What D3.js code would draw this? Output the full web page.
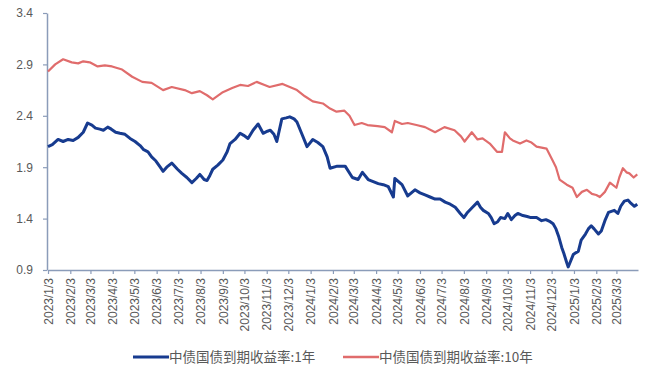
<!DOCTYPE html>
<html>
<head>
<meta charset="utf-8">
<script src="https://cdn.jsdelivr.net/npm/d3@7"></script>
<style>
  html, body { margin: 0; padding: 0; background: #ffffff; }
  svg { display: block; }
</style>
</head>
<body>
<svg id="chart" width="645" height="375"></svg>
<script>
// ---- Data ----
const seriesNames = ["中债国债到期收益率:1年", "中债国债到期收益率:10年"];

const yTickValues = [0.9, 1.4, 1.9, 2.4, 2.9, 3.4];

const oneYear = [
  ["2023-01-03",2.10],["2023-01-09",2.12],["2023-01-17",2.17],["2023-01-24",2.15],["2023-01-31",2.17],
  ["2023-02-07",2.16],["2023-02-14",2.19],["2023-02-21",2.24],["2023-02-27",2.33],["2023-03-05",2.31],
  ["2023-03-10",2.28],["2023-03-16",2.27],["2023-03-21",2.26],["2023-03-27",2.29],["2023-04-01",2.27],
  ["2023-04-07",2.24],["2023-04-13",2.23],["2023-04-20",2.22],["2023-04-27",2.18],["2023-05-04",2.15],
  ["2023-05-11",2.11],["2023-05-16",2.07],["2023-05-22",2.05],["2023-05-27",2.00],["2023-06-02",1.96],
  ["2023-06-08",1.90],["2023-06-12",1.86],["2023-06-17",1.90],["2023-06-24",1.94],["2023-07-02",1.88],
  ["2023-07-08",1.84],["2023-07-15",1.80],["2023-07-22",1.75],["2023-07-28",1.79],["2023-08-02",1.83],
  ["2023-08-08",1.78],["2023-08-12",1.77],["2023-08-16",1.82],["2023-08-20",1.88],["2023-08-27",1.92],
  ["2023-09-03",1.97],["2023-09-09",2.05],["2023-09-13",2.13],["2023-09-20",2.17],["2023-09-27",2.23],
  ["2023-10-02",2.21],["2023-10-08",2.18],["2023-10-15",2.26],["2023-10-22",2.32],["2023-10-29",2.23],
  ["2023-11-04",2.25],["2023-11-08",2.26],["2023-11-13",2.22],["2023-11-17",2.15],["2023-11-24",2.37],
  ["2023-11-30",2.38],["2023-12-05",2.39],["2023-12-11",2.37],["2023-12-15",2.34],["2023-12-22",2.22],
  ["2023-12-29",2.10],["2024-01-06",2.17],["2024-01-13",2.14],["2024-01-20",2.10],["2024-01-26",2.00],
  ["2024-01-30",1.89],["2024-02-09",1.91],["2024-02-20",1.91],["2024-03-01",1.80],["2024-03-09",1.78],
  ["2024-03-15",1.85],["2024-03-23",1.78],["2024-03-30",1.76],["2024-04-06",1.74],["2024-04-13",1.73],
  ["2024-04-20",1.71],["2024-04-27",1.61],["2024-04-29",1.79],["2024-05-09",1.73],["2024-05-17",1.62],
  ["2024-05-27",1.68],["2024-06-03",1.65],["2024-06-10",1.63],["2024-06-17",1.61],["2024-06-24",1.59],
  ["2024-07-01",1.59],["2024-07-08",1.56],["2024-07-15",1.54],["2024-07-22",1.51],["2024-07-29",1.45],
  ["2024-08-03",1.41],["2024-08-08",1.46],["2024-08-15",1.51],["2024-08-22",1.56],["2024-08-26",1.51],
  ["2024-08-30",1.48],["2024-09-06",1.45],["2024-09-10",1.41],["2024-09-14",1.35],["2024-09-19",1.37],
  ["2024-09-23",1.41],["2024-09-29",1.40],["2024-10-03",1.45],["2024-10-08",1.39],["2024-10-13",1.43],
  ["2024-10-17",1.45],["2024-10-24",1.43],["2024-10-30",1.42],["2024-11-04",1.41],["2024-11-12",1.41],
  ["2024-11-19",1.38],["2024-11-25",1.39],["2024-12-01",1.37],["2024-12-05",1.35],["2024-12-09",1.30],
  ["2024-12-13",1.22],["2024-12-17",1.12],["2024-12-20",1.06],["2024-12-24",0.97],["2024-12-26",0.93],
  ["2024-12-29",0.98],["2025-01-02",1.05],["2025-01-06",1.07],["2025-01-09",1.08],["2025-01-13",1.19],
  ["2025-01-19",1.25],["2025-01-23",1.30],["2025-01-27",1.33],["2025-01-31",1.30],["2025-02-06",1.25],
  ["2025-02-10",1.28],["2025-02-15",1.38],["2025-02-20",1.46],["2025-02-24",1.47],["2025-02-28",1.48],
  ["2025-03-05",1.45],["2025-03-09",1.52],["2025-03-14",1.57],["2025-03-19",1.58],["2025-03-23",1.55],
  ["2025-03-28",1.52],["2025-04-01",1.54]
];

const tenYear = [
  ["2023-01-03",2.83],["2023-01-13",2.90],["2023-01-24",2.95],["2023-02-05",2.92],["2023-02-14",2.91],
  ["2023-02-21",2.93],["2023-03-02",2.92],["2023-03-13",2.88],["2023-03-23",2.89],["2023-04-02",2.88],
  ["2023-04-16",2.85],["2023-04-30",2.78],["2023-05-14",2.73],["2023-05-27",2.72],["2023-06-12",2.65],
  ["2023-06-24",2.68],["2023-07-12",2.65],["2023-07-22",2.62],["2023-08-02",2.64],["2023-08-12",2.60],
  ["2023-08-20",2.56],["2023-09-03",2.63],["2023-09-16",2.67],["2023-09-27",2.70],["2023-10-08",2.69],
  ["2023-10-20",2.73],["2023-10-31",2.70],["2023-11-07",2.68],["2023-11-25",2.71],["2023-12-05",2.68],
  ["2023-12-15",2.65],["2023-12-26",2.59],["2024-01-06",2.54],["2024-01-20",2.52],["2024-01-30",2.47],
  ["2024-02-08",2.44],["2024-02-19",2.45],["2024-02-26",2.40],["2024-03-04",2.31],["2024-03-14",2.33],
  ["2024-03-22",2.31],["2024-04-05",2.30],["2024-04-15",2.29],["2024-04-25",2.24],["2024-04-29",2.35],
  ["2024-05-09",2.32],["2024-05-17",2.33],["2024-05-29",2.31],["2024-06-10",2.29],["2024-06-24",2.24],
  ["2024-07-07",2.29],["2024-07-21",2.26],["2024-07-30",2.20],["2024-08-04",2.15],["2024-08-14",2.24],
  ["2024-08-22",2.17],["2024-08-29",2.18],["2024-09-08",2.13],["2024-09-18",2.05],["2024-09-25",2.05],
  ["2024-09-29",2.24],["2024-10-06",2.18],["2024-10-10",2.16],["2024-10-20",2.13],["2024-10-29",2.16],
  ["2024-11-05",2.14],["2024-11-12",2.10],["2024-11-26",2.08],["2024-12-04",1.97],["2024-12-09",1.90],
  ["2024-12-14",1.78],["2024-12-24",1.73],["2025-01-01",1.70],["2025-01-07",1.61],["2025-01-14",1.66],
  ["2025-01-21",1.68],["2025-01-28",1.64],["2025-02-03",1.63],["2025-02-08",1.61],["2025-02-15",1.66],
  ["2025-02-22",1.75],["2025-03-03",1.70],["2025-03-07",1.80],["2025-03-12",1.89],["2025-03-17",1.85],
  ["2025-03-21",1.84],["2025-03-27",1.80],["2025-04-01",1.83]
];

// ---- Chart ----
const parse = d3.timeParse("%Y-%m-%d");
const svg = d3.select("#chart");

const x = d3.scaleTime()
  .domain([parse("2023-01-03"), parse("2025-04-02")])
  .range([48, 638]);
const y = d3.scaleLinear().domain([0.9, 3.4]).range([270, 13]);

const axisColor = "#8b9cb9";
const textColor = "#595959";

// X axis ticks: the 3rd of each month
const xTickValues = d3.range(27).map(i => new Date(2023, i, 3));
const fmt = d3.timeFormat("%Y/%-m/%-d");

const xAxis = svg.append("g")
  .attr("transform", "translate(0,270)")
  .call(d3.axisBottom(x).tickValues(xTickValues).tickFormat(fmt).tickSizeInner(4).tickSizeOuter(0));
xAxis.select(".domain").attr("stroke", axisColor).attr("stroke-width", 1.5);
xAxis.selectAll(".tick line").attr("stroke", axisColor).attr("stroke-width", 1.2);
xAxis.selectAll(".tick text")
  .attr("fill", textColor)
  .attr("font-family", "Liberation Sans, Arial, sans-serif")
  .attr("font-size", 12)
  .attr("transform", "rotate(-90)")
  .attr("text-anchor", "end")
  .attr("x", -8)
  .attr("y", 0)
  .attr("dy", "0.35em");

const yAxis = svg.append("g")
  .attr("transform", "translate(47,0)")
  .call(d3.axisLeft(y).tickValues(yTickValues).tickFormat(d3.format(".1f")).tickSizeInner(4).tickSizeOuter(0));
yAxis.select(".domain").attr("stroke", axisColor).attr("stroke-width", 1.5);
yAxis.selectAll(".tick line").attr("stroke", axisColor).attr("stroke-width", 1.2);
yAxis.selectAll(".tick text")
  .attr("fill", textColor)
  .attr("font-family", "Liberation Sans, Arial, sans-serif")
  .attr("font-size", 12)
  .attr("x", -14);

const line = d3.line()
  .x(d => x(parse(d[0])))
  .y(d => y(d[1]));

const colors = ["#173b8f", "#e06c6c"];

svg.append("path")
  .datum(tenYear)
  .attr("d", line)
  .attr("fill", "none")
  .attr("stroke", colors[1])
  .attr("stroke-width", 2.2)
  .attr("stroke-linejoin", "round");

svg.append("path")
  .datum(oneYear)
  .attr("d", line)
  .attr("fill", "none")
  .attr("stroke", colors[0])
  .attr("stroke-width", 3)
  .attr("stroke-linejoin", "round");

// Legend
const legendItems = [
  { name: seriesNames[0], color: colors[0], x: 133, w: 3 },
  { name: seriesNames[1], color: colors[1], x: 343, w: 2.5 }
];
const lg = svg.append("g");
legendItems.forEach(it => {
  lg.append("line")
    .attr("x1", it.x).attr("x2", it.x + 36)
    .attr("y1", 357).attr("y2", 357)
    .attr("stroke", it.color).attr("stroke-width", it.w);
  lg.append("text")
    .attr("x", it.x + 36)
    .attr("y", 357)
    .attr("dy", "0.35em")
    .attr("fill", textColor)
    .attr("font-family", "Noto Sans CJK SC, sans-serif")
    .attr("font-size", 13.5)
    .text(it.name);
});
</script>
</body>
</html>
